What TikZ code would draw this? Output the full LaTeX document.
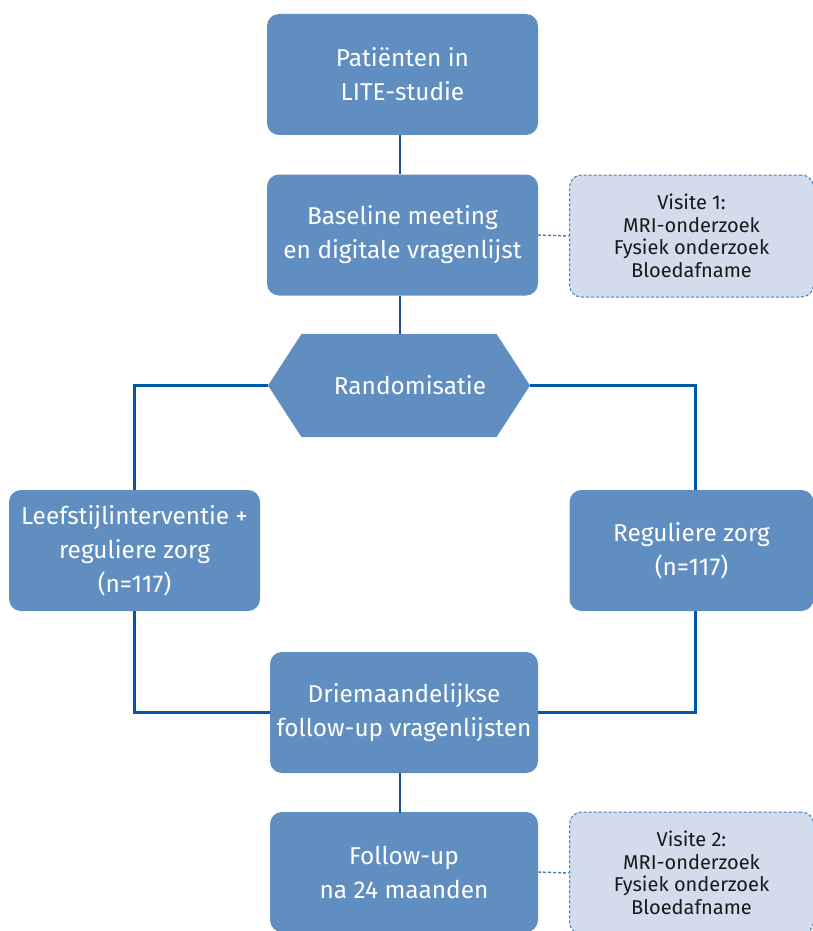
\documentclass[tikz,border=0pt]{standalone}
\usepackage{fontspec}
\setmainfont{Fira Sans}
\usetikzlibrary{shapes.symbols}

\definecolor{boxblue}{RGB}{96,142,192}
\definecolor{lightblue}{RGB}{210,220,237}
\definecolor{dashblue}{RGB}{70,125,185}
\definecolor{lineblue}{RGB}{0,88,168}
\definecolor{thinblue}{RGB}{35,80,135}

\tikzset{
  blok/.style={fill=boxblue, rounded corners=12pt, text=white, align=center,
    minimum width=271pt, minimum height=121pt, inner sep=0pt,
    font=\fontsize{24.4}{34}\selectfont},
  visite/.style={draw=dashblue, line width=1pt, dash pattern=on 3pt off 2pt,
    fill=lightblue, rounded corners=12pt, align=center, text=black!90,
    minimum width=244pt, minimum height=122pt, inner sep=0pt,
    font=\fontsize{20}{22.5}\selectfont},
  dun/.style={draw=thinblue, line width=1.2pt},
  dik/.style={draw=lineblue, line width=2.5pt},
  stip/.style={draw=dashblue, line width=1.4pt, dash pattern=on 3pt off 2pt}
}

\begin{document}
\begin{tikzpicture}[x=1pt, y=-1pt]
\useasboundingbox (0,0) rectangle (813,931);
\node[blok] (pat) at (402.5,74.5) {Patiënten in\\LITE-studie};
\node[blok] (base) at (402.5,235) {Baseline meeting\\en digitale vragenlijst};
\node[visite] (vis1) at (691.5,236) {Visite 1:\\MRI-onderzoek\\Fysiek onderzoek\\Bloedafname};
\node[shape=signal, signal to=west and east, signal pointer angle=114, fill=boxblue,
  minimum width=262pt, minimum height=103pt, inner sep=0pt, text=white,
  font=\fontsize{24.4}{34}\selectfont] (rand) at (399,385.5) {\hspace{22pt}Randomisatie};
\node[blok, minimum width=251pt] (links) at (134.5,550.5) {Leefstijlinterventie +\\reguliere zorg\\(n=117)};
\node[blok, minimum width=244pt] (rechts) at (691.5,550.5) {Reguliere zorg\\(n=117)};
\node[blok, minimum width=268pt] (drie) at (404,712.5) {Driemaandelijkse\\follow-up vragenlijsten};
\node[blok, minimum width=268pt, minimum height=120pt] (fol) at (404,872) {Follow-up\\na 24 maanden};
\node[visite] (vis2) at (691.5,873) {Visite 2:\\MRI-onderzoek\\Fysiek onderzoek\\Bloedafname};

\draw[dun] (400,135) -- (400,174);
\draw[dun] (400,296) -- (400,334);
\draw[dun] (400,773) -- (400,813);
\draw[stip] (base.east) -- (vis1.west);
\draw[stip] (fol.east) -- (vis2.west);
\draw[dik] (rand.west) -| (links.north);
\draw[dik] (links.south) |- (drie.west);
\draw[dik] (rand.east) -| ([xshift=4pt]rechts.north);
\draw[dik] ([xshift=4pt]rechts.south) |- (drie.east);
\end{tikzpicture}
\end{document}
